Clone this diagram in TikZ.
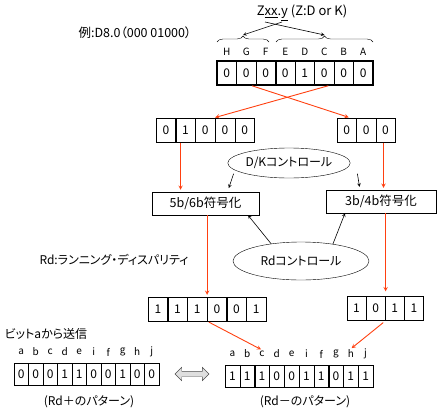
\documentclass[tikz,border=0pt]{standalone}
\usepackage{fontspec}
\setmainfont{Noto Sans CJK JP}[RawFeature=+palt]
\usetikzlibrary{arrows, calc, shapes.geometric, shapes.arrows, decorations.pathreplacing}

\definecolor{signal}{RGB}{255,64,16}

\tikzstyle{cell} = [
    rectangle,
    draw=black,
    minimum width=19.5pt,
    minimum height=24pt,
    inner sep=0pt,
    font=\fontsize{12}{12}\selectfont
]
\tikzstyle{smallcell} = [
    rectangle,
    draw=black,
    minimum width=14.6pt,
    minimum height=22pt,
    inner sep=0pt,
    font=\fontsize{12}{12}\selectfont
]
\tikzstyle{coder} = [
    rectangle,
    draw=black,
    minimum height=23pt,
    text centered,
    font=\fontsize{12.5}{13}\selectfont
]
\tikzstyle{control} = [
    ellipse,
    draw=black,
    inner sep=0pt,
    font=\fontsize{12}{13}\selectfont
]
\tikzstyle{note} = [inner sep=1pt, font=\fontsize{12}{14}\selectfont]
\tikzstyle{bitname} = [inner sep=1pt, font=\fontsize{10}{10}\selectfont]
\tikzstyle{flow} = [line width=0.9pt, draw=signal, ->, >=stealth]
\tikzstyle{ctrl} = [line width=0.6pt, ->, >=stealth]

\begin{document}
\begin{tikzpicture}[x=1pt, y=-1pt]
    \useasboundingbox (0,0) rectangle (443,412);

    % code word and example
    \node (code) [note, font=\fontsize{13}{14}\selectfont] at (302,13) {Z\underline{xx}.\underline{y} (Z:D or K)};
    \node (example) [note, font=\fontsize{12.5}{14}\selectfont] at (135,33) {例:D8.0（000 01000）};
    \coordinate (xxmark) at (265,22);
    \coordinate (ymark) at (282,22);
    \coordinate (hgftip) at (243,35);
    \coordinate (edcbatip) at (324.5,35);
    \draw[decorate, decoration={brace, amplitude=6pt}] (217,42) -- (269,42);
    \draw[decorate, decoration={brace, amplitude=6pt}] (276,42) -- (373,42);
    \draw[ctrl] (xxmark) -- (edcbatip);
    \draw[ctrl] (ymark) -- (hgftip);

    % 8 bit source
    \foreach \l [count=\i] in {H,G,F,E,D,C,B,A}
        \node[bitname] (srcname\i) at ({217+19.5*(\i-0.5)}, 52) {\l};
    \foreach \b [count=\i] in {0,0,0,0,1,0,0,0}
        \node[cell] (src\i) at ({217+19.5*(\i-0.5)}, 73) {\b};
    \draw[line width=1.6pt] (src1.north west) rectangle (src8.south east);
    \draw[line width=1.6pt] (src3.north east) -- (src3.south east);

    % split into 5 + 3 bits
    \foreach \b [count=\i] in {0,1,0,0,0}
        \node[cell] (five\i) at ({156+19.7*(\i-0.5)}, 130.5) {\b};
    \foreach \b [count=\i] in {0,0,0}
        \node[cell] (three\i) at ({337+19.4*(\i-0.5)}, 130.5) {\b};
    \draw[flow, shorten <=2pt, shorten >=3pt] ([xshift=4pt]src2.south) -- ([xshift=5pt]three1.north);
    \draw[flow, shorten <=2pt, shorten >=3pt] ([xshift=6pt]src6.south) -- ([xshift=7pt]five3.north);

    % encoders and controls
    \node (enc56) [coder, minimum width=107pt] at (205.5,203.5) {5b/6b符号化};
    \node (enc34) [coder, minimum width=110pt] at (381,201.5) {3b/4b符号化};
    \node (dk) [control, minimum width=98pt, minimum height=30pt] at (289,163) {D/Kコントロール};
    \node (rd) [control, minimum width=136pt, minimum height=38pt] at (301,261) {Rdコントロール};
    \node (rdnote) [note] at (114,260) {Rd:ランニング・ディスパリティ};

    \draw[flow, shorten >=2pt] ([xshift=-5pt]five2.south) -- ([xshift=-5pt]five2.south |- enc56.north);
    \draw[flow, shorten >=2pt] ([xshift=-2pt]three3.south) -- ([xshift=-2pt]three3.south |- enc34.north);
    \draw[ctrl, shorten >=4pt] ([xshift=-12pt]dk.south west) -- ([xshift=22pt]enc56.north);
    \draw[ctrl, shorten >=3pt] ([xshift=25pt]dk.south east) -- ([xshift=-21pt]enc34.north);
    \draw[ctrl] (rd.150) -- ([xshift=42.5pt]enc56.south);
    \draw[ctrl] (rd.28) -- ([xshift=-36pt]enc34.south);

    % 6 + 4 bit codes
    \foreach \b [count=\i] in {1,1,1,0,0,1}
        \node[cell] (six\i) at ({148+19.67*(\i-0.5)}, 309) {\b};
    \foreach \b [count=\i] in {1,0,1,1}
        \node[cell] (four\i) at ({347+19.1*(\i-0.5)}, 308.5) {\b};
    \draw[flow, shorten >=2pt] (six3.north east |- enc56.south) -- (six3.north east);
    \draw[flow, shorten >=5pt] (four2.north east |- enc34.south) -- (four2.north east);

    % 10 bit patterns
    \node (sendnote) [note] at (46,334) {ビットaから送信};
    \foreach \l [count=\i] in {a,b,c,d,e,i,f,g,h,j}
        \node[bitname] (plusname\i) at ({14+14.5*(\i-0.5)}, 352) {\l};
    \foreach \b [count=\i] in {0,0,0,1,1,0,0,1,0,0}
        \node[smallcell] (plus\i) at ({14+14.5*(\i-0.5)}, 374) {\b};
    \foreach \l [count=\i] in {a,b,c,d,e,i,f,g,h,j}
        \node[bitname] (minusname\i) at ({225+14.8*(\i-0.5)}, 354) {\l};
    \foreach \b [count=\i] in {1,1,1,0,0,1,1,0,1,1}
        \node[smallcell] (minus\i) at ({225+14.8*(\i-0.5)}, 376) {\b};
    \node (plusnote) [note] at (89,402) {(Rd＋のパターン)};
    \node (minusnote) [note] at (305,402) {(Rd－のパターン)};

    \node (swap) [double arrow, draw=gray!60!black, fill=gray!25, inner sep=2.5pt,
        minimum height=34pt, double arrow head extend=4pt] at (192,374) {};

    \draw[flow, shorten <=2pt, shorten >=1pt] (six3.south east) -- (minusname3.north);
    \draw[flow, shorten <=3pt, shorten >=1pt] (four2.south east) -- (minusname9.north);
\end{tikzpicture}
\end{document}
